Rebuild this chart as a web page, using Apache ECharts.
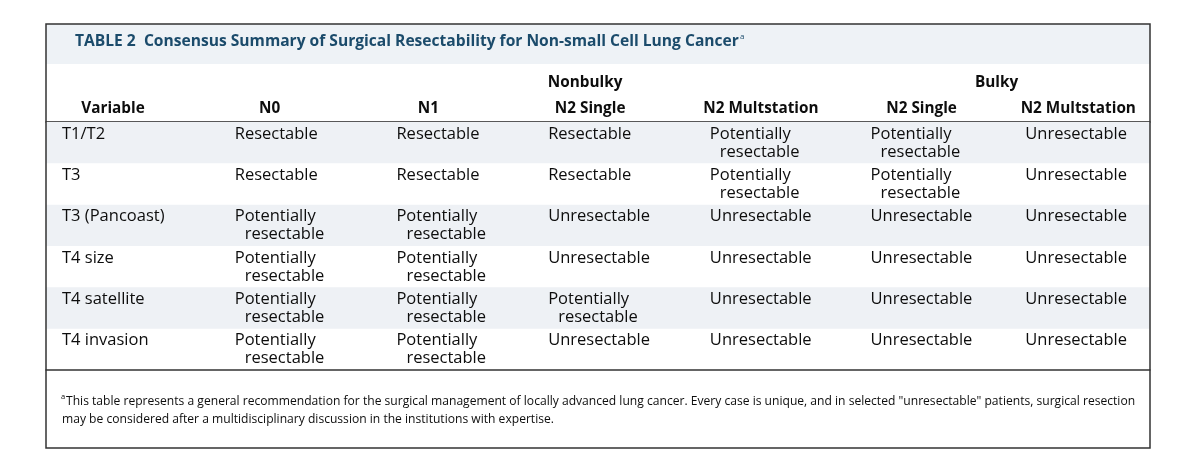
<!DOCTYPE html>
<html>
<head>
<meta charset="utf-8">
<script src="https://cdn.jsdelivr.net/npm/echarts@6/dist/echarts.min.js"></script>
<style>
  html, body { margin: 0; padding: 0; background: #fff; }
  #chart { width: 1200px; height: 461px; }
</style>
</head>
<body>
<div id="chart"></div>
<script>
// table content
const title = 'TABLE 2  Consensus Summary of Surgical Resectability for Non-small Cell Lung Cancer';
const columns = ['Variable', 'N0', 'N1', 'N2 Single', 'N2 Multstation', 'N2 Single', 'N2 Multstation'];
const groups = [
  { name: 'Nonbulky', col: 3 },
  { name: 'Bulky', col: 5 }
];
const variables = ['T1/T2', 'T3', 'T3 (Pancoast)', 'T4 size', 'T4 satellite', 'T4 invasion'];

const R = 'Resectable', P = 'Potentially resectable', U = 'Unresectable';
const n0 = [R, R, P, P, P, P];
const n1 = [R, R, P, P, P, P];
const nonbulkyN2Single = [R, R, U, U, P, U];
const nonbulkyN2Multi = [P, P, U, U, U, U];
const bulkyN2Single = [P, P, U, U, U, U];
const bulkyN2Multi = [U, U, U, U, U, U];

const footnote = [
  'This table represents a general recommendation for the surgical management of locally advanced lung cancer. Every case is unique, and in selected "unresectable" patients, surgical resection',
  'may be considered after a multidisciplinary discussion in the institutions with expertise.'
];

// layout (pixels relative to each column band)
const cellPad = [16, 31, 35, 29, 33, 36, 33];
const headerDx = [67, 66, 67, 71, 84, 87, 86];
const groupDx = { 3: 66, 5: 162 };
const FONT = '"Open Sans", "Noto Sans", sans-serif';
const titleFont = 'bold 15.6px ' + FONT;
const bodyFont = '500 16.5px ' + FONT;
const stripe = '#eef1f5';
const ink = '#0d0d0d';
const navy = '#1b4b6b';

const valueCols = [variables, n0, n1, nonbulkyN2Single, nonbulkyN2Multi, bulkyN2Single, bulkyN2Multi];
const cells = [];
valueCols.forEach((vals, c) => vals.forEach((v, r) => cells.push([c, r, v])));

// width of the title, to hang the superscript right after it
const ctx = document.createElement('canvas').getContext('2d');
ctx.font = titleFont;
const titleW = ctx.measureText(title).width;

const chart = echarts.init(document.getElementById('chart'));

function bandLeft(api, col, row) {
  const p = api.coord([col, row]);
  return p[0] - api.size([1, 0])[0] / 2;
}

chart.setOption({
  animation: false,
  grid: { left: 46, right: 50, top: 122, bottom: 91 },
  xAxis: [
    { type: 'category', data: columns, position: 'top',
      axisLine: { lineStyle: { color: '#222', width: 1.5 } },
      axisTick: { show: false }, axisLabel: { show: false } },
    { type: 'category', data: columns, position: 'bottom',
      axisLine: { lineStyle: { color: '#333', width: 1.5 } },
      axisTick: { show: false }, axisLabel: { show: false } }
  ],
  yAxis: { type: 'category', data: variables, inverse: true, show: false },
  graphic: [
    { type: 'rect', shape: { x: 46, y: 24, width: 1104, height: 40 }, style: { fill: '#eef2f6' }, z: -1 },
    { type: 'text', x: 75, y: 42, style: { text: title, font: titleFont, fill: navy, verticalAlign: 'middle' } },
    { type: 'text', x: 75 + titleW + 1, y: 37, style: { text: 'a', font: '8px ' + FONT, fill: navy, verticalAlign: 'middle' } },
    { type: 'text', x: 61, y: 397, style: { text: 'a', font: '7.5px ' + FONT, fill: ink, verticalAlign: 'middle' } },
    { type: 'text', x: 66, y: 402, style: { text: footnote[0], font: '12.1px ' + FONT, fill: ink, verticalAlign: 'middle' } },
    { type: 'text', x: 62, y: 420, style: { text: footnote[1], font: '12.1px ' + FONT, fill: ink, verticalAlign: 'middle' } },
    { type: 'rect', shape: { x: 46, y: 24, width: 1104, height: 424 }, style: { fill: 'none', stroke: '#333', lineWidth: 1.5 }, z: 10 }
  ],
  series: [
    {
      // alternating row bands
      type: 'custom',
      data: variables.map((v, r) => [0, r]),
      z: 1,
      renderItem: function (params, api) {
        const r = api.value(1);
        if (r % 2 === 1) return null;
        const p = api.coord([0, r]);
        const h = api.size([0, 1])[1];
        const cs = params.coordSys;
        return { type: 'rect', shape: { x: cs.x, y: p[1] - h / 2, width: cs.width, height: h }, style: { fill: stripe } };
      }
    },
    {
      // column and group headers
      type: 'custom',
      data: columns.map((c, i) => [i, 0]),
      z: 3,
      renderItem: function (params, api) {
        const c = api.value(0);
        const x0 = bandLeft(api, c, 0);
        const top = params.coordSys.y;
        const font = 'bold 15.3px ' + FONT;
        const kids = [{ type: 'text', style: { text: columns[c], x: x0 + headerDx[c], y: top - 13,
          font: font, fill: ink, align: 'center', verticalAlign: 'middle' } }];
        groups.forEach(g => {
          if (g.col === c) kids.push({ type: 'text', style: { text: g.name, x: x0 + groupDx[c], y: top - 39,
            font: font, fill: ink, align: 'center', verticalAlign: 'middle' } });
        });
        return { type: 'group', children: kids };
      }
    },
    {
      // body cells
      type: 'custom',
      data: cells,
      z: 3,
      renderItem: function (params, api) {
        const c = api.value(0), r = api.value(1);
        const text = cells[params.dataIndex][2];
        const p = api.coord([c, r]);
        const h = api.size([0, 1])[1];
        const x = bandLeft(api, c, r) + cellPad[c];
        const y = p[1] - h / 2 + 12;
        if (text === P) {
          return { type: 'group', children: [
            { type: 'text', style: { text: 'Potentially', x: x, y: y, font: bodyFont, fill: ink, verticalAlign: 'middle' } },
            { type: 'text', style: { text: 'resectable', x: x + 10, y: y + 18, font: bodyFont, fill: ink, verticalAlign: 'middle' } }
          ] };
        }
        return { type: 'text', style: { text: text, x: x, y: y, font: bodyFont, fill: ink, verticalAlign: 'middle' } };
      }
    }
  ]
});
</script>
</body>
</html>
